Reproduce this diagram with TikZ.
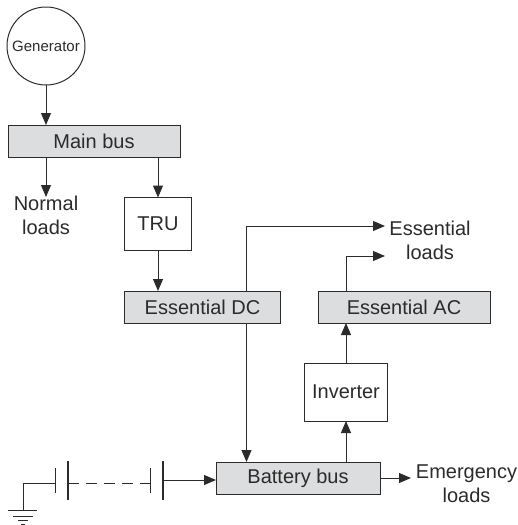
\documentclass[tikz,border=0pt]{standalone}
\usepackage{fontspec}
\setmainfont{Liberation Sans}
\usetikzlibrary{arrows.meta,calc}
\definecolor{ink}{HTML}{2B2B2B}
\definecolor{busgray}{HTML}{DCDDDE}
\tikzset{
  every node/.style={text=ink},
  box/.style={draw=ink,line width=1pt,minimum width=#1,inner sep=0pt,outer sep=0pt,font=\fontsize{20}{22}\selectfont},
  bus/.style={box=#1,fill=busgray,minimum height=32pt},
  plain/.style={box=#1,fill=white},
  conn/.style={draw=ink,line width=1pt,-{Triangle[length=12pt,width=10pt]}},
  wire/.style={draw=ink,line width=1pt},
  lbl/.style={align=center,font=\fontsize{20}{24}\selectfont,inner sep=0pt},
}
\begin{document}
\begin{tikzpicture}[x=1pt,y=-1pt]
\useasboundingbox (0,0) rectangle (518,525);
\node[draw=ink,line width=1pt,circle,minimum size=78pt,inner sep=0pt,outer sep=0pt,font=\fontsize{15}{17}\selectfont] (gen) at (46,46) {Generator};
\node[bus=172pt] (main) at (94,141) {Main bus};
\node[plain=67pt,minimum height=53pt] (tru) at (158,224) {TRU};
\node[bus=156pt] (dc) at (202.5,307) {Essential DC};
\node[bus=172pt] (ac) at (404,307) {Essential AC};
\node[plain=83pt,minimum height=58pt] (inv) at (346,392) {Inverter};
\node[bus=164pt] (bat) at (298,478) {Battery bus};
\node[lbl] (normal) at (46,215) {Normal\\loads};
\node[lbl] (essl) at (430,240) {Essential\\loads};
\node[lbl] (emer) at (466.5,483.5) {Emergency\\loads};

\coordinate (g1) at (46,125);
\coordinate (n1) at (46,157);
\coordinate (n2) at (46,197);
\coordinate (t1) at (158,157);
\coordinate (d1) at (246.5,291);
\coordinate (d2) at (246.5,323);
\coordinate (d3) at (246.5,462);
\coordinate (e1) at (385,226);
\coordinate (e2) at (385,256);
\coordinate (a1) at (346,291);
\coordinate (em) at (411,478);
\coordinate (gnd) at (23,510.5);
\coordinate (p1) at (55,483);
\coordinate (p2) at (68,483);
\coordinate (p3) at (150,483);
\coordinate (p4) at (163,480);

\draw[conn] (gen.south) -- (g1);
\draw[conn] (n1) -- (n2);
\draw[conn] (t1) -- (tru.north);
\draw[conn] (tru.south) -- (tru.south |- dc.north);
\draw[conn] (d1) |- (e1);
\draw[conn] (d2) -- (d3);
\draw[conn] (a1) |- (e2);
\draw[conn] (inv.north) -- (inv.north |- ac.south);
\draw[conn] (inv.north |- bat.north) -- (inv.south);
\draw[conn] (bat.east) -- (em);
\draw[conn] (p4) -- (p4 -| bat.west);
\draw[wire] (gnd) |- (p1);
\draw[wire,dash pattern=on 11pt off 7pt] (p2) -- (p3);
\draw[wire] ($(p1)+(0,-15)$) -- ($(p1)+(0,10)$);
\draw[draw=ink,line width=2pt] ($(p2)+(0,-22)$) -- ($(p2)+(0,17)$);
\draw[wire] ($(p3)+(0,-15)$) -- ($(p3)+(0,10)$);
\draw[draw=ink,line width=1.2pt] ($(p4)+(0,-19)$) -- ($(p4)+(0,20)$);
\draw[wire] ($(gnd)+(-15,0)$) -- ($(gnd)+(14,0)$);
\draw[wire] ($(gnd)+(-10,5.5)$) -- ($(gnd)+(10,5.5)$);
\draw[wire] ($(gnd)+(-5,10)$) -- ($(gnd)+(5,10)$);
\draw[wire] ($(gnd)+(-2,13.5)$) -- ($(gnd)+(2,13.5)$);
\end{tikzpicture}
\end{document}
